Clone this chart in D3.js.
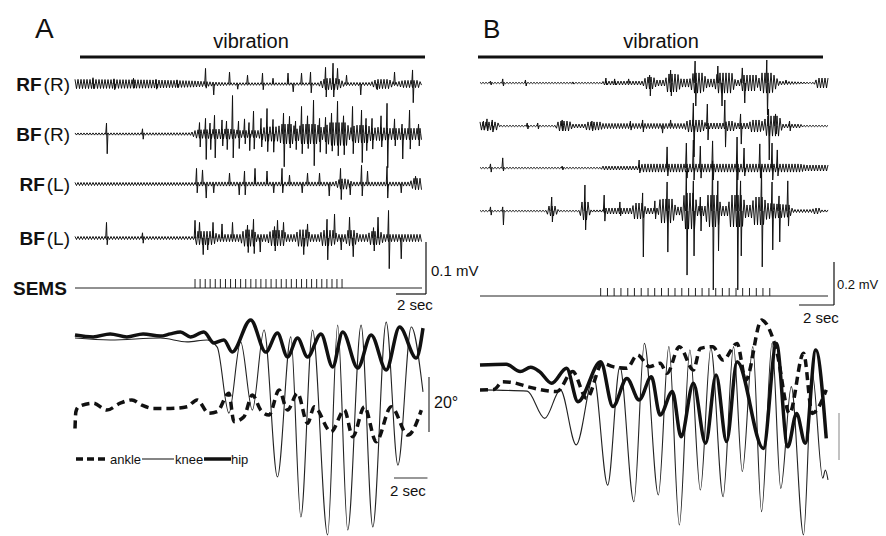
<!DOCTYPE html>
<html>
<head>
<meta charset="utf-8">
<script src="https://cdn.jsdelivr.net/npm/d3@7"></script>
<style>
  body { margin: 0; background: #fff; }
  text { font-family: "Liberation Sans", Arial, sans-serif; fill: #111; }
</style>
</head>
<body>
<div id="chart"></div>
<script>
// ---- EMG data, panel A (time in s, amplitude in µV) ----
// envelope = [time, half amplitude of background activity]
// spikes = [time, up, down]
const rfR_env = [[0,9],[5,8],[8,6],[9.1,4],[10.3,2.5],[16.2,2.5],[16.7,11],[17.5,11],[18,3],[19.7,3],[20.1,9],[20.9,9],[21.3,3],[21.9,7],[22.9,7],[23.1,2]];
const rfR_spikes = [[1.2,12,9],[2.6,10,11],[3.9,11,8],[5.4,9,10],[6.8,8,7],[8.7,30,8],[9.2,0,21],[10.3,23,0],[10.8,0,10],[11.5,17,0],[12.5,21,11],[13.2,11,0],[14.2,21,0],[14.5,0,15],[15.1,21,0],[15.7,23,17],[16.7,32,25],[17.2,40,25],[17.5,30,0],[18.1,17,0],[19.0,0,21],[20.1,0,11],[21.3,23,0],[22.5,27,36]];

const bfR_env = [[0,2],[7.7,2.5],[8.1,8],[10.3,10],[11,7],[12.2,7],[12.7,14],[13.5,14],[13.8,19],[14.5,19],[14.8,10],[15.1,19],[16.1,19],[16.5,11],[17,22],[18.1,22],[18.3,11],[18.7,17],[19.5,17],[19.8,11],[20.2,13],[21,11],[23.1,11]];
const bfR_spikes = [[2.1,21,38],[4.5,10,10],[8.3,22,25],[8.7,30,49],[9.0,21,30],[9.3,36,46],[9.8,27,23],[10.1,25,30],[10.5,74,46],[10.9,25,28],[11.3,29,19],[11.6,22,32],[11.9,44,29],[12.4,30,25],[12.8,49,34],[13.2,28,35],[13.9,40,63],[14.3,34,27],[14.7,25,30],[15.1,53,38],[15.5,35,28],[15.9,65,61],[16.3,30,35],[16.7,32,38],[17.1,40,33],[17.5,63,42],[17.9,35,40],[18.5,53,38],[19.1,46,55],[19.4,30,32],[19.8,30,29],[20.4,35,25],[20.8,59,65],[21.3,29,23],[21.8,19,48],[22.3,46,29],[22.9,19,23]];

const rfL_env = [[0,3],[8,3],[8.3,4],[17.3,4],[17.7,10],[18.1,10],[18.5,4],[22.3,4],[22.6,11],[23.1,11]];
const rfL_spikes = [[8.1,30,17],[8.5,27,0],[8.7,0,27],[9.2,0,17],[10.3,21,0],[10.9,0,21],[11.3,25,21],[12,30,0],[12.8,25,0],[13.2,0,17],[13.8,30,17],[14.3,17,0],[15.1,0,17],[15.5,21,0],[16.3,21,0],[16.9,0,23],[17.7,30,30],[18.3,0,21],[19.1,36,23],[19.5,25,0],[20.8,34,27],[21.7,0,17],[22.7,15,0]];

const bfL_env = [[0,3],[8,3],[8.1,13],[9.2,13],[9.5,7],[11,7],[11.3,16],[11.9,16],[12.1,7],[12.8,7],[13.1,15],[13.9,15],[14.1,7],[14.7,7],[14.9,16],[15.5,16],[15.7,7],[16.3,7],[16.5,15],[17.2,15],[17.5,7],[18,7],[18.2,15],[18.6,15],[18.9,7],[19.5,7],[19.7,13],[20.3,13],[20.6,7],[23.1,7]];
const bfL_spikes = [[2.1,30,13],[4.5,10,10],[8,34,0],[8.3,30,0],[8.5,0,32],[8.8,0,23],[9.2,30,0],[9.8,27,0],[10.5,30,0],[11.5,25,28],[11.9,36,30],[12.3,0,27],[13.3,22,25],[13.5,34,0],[13.9,30,0],[15.2,0,32],[15.5,27,0],[16.8,36,42],[17.3,46,0],[17.7,0,23],[18.3,40,0],[18.5,0,36],[19.9,20,25],[20.2,40,0],[20.9,53,59],[21.7,0,40]];

// stimulation pulses (s)
const semsA = [8.00,8.34,8.68,9.01,9.35,9.69,10.03,10.37,10.70,11.04,11.38,11.72,12.06,12.39,12.73,13.07,13.41,13.75,14.08,14.42,14.76,15.10,15.44,15.77,16.11,16.45,16.79,17.13,17.46,17.80];

// ---- EMG data, panel B ----
const b1_env = [[0,3],[6.9,3],[7.1,9],[9.3,9],[9.5,28],[9.9,28],[10.1,14],[10.6,14],[10.7,42],[11.3,42],[11.5,19],[12,19],[12.2,47],[12.7,47],[13,19],[13.4,19],[13.6,47],[14.4,47],[14.6,14],[14.9,14],[15,37],[15.8,37],[15.9,14],[16.1,47],[16.7,47],[17,19],[17.1,9],[18.3,5],[19.1,3],[19.3,23],[19.9,23]];
const b1_spikes = [[0.6,9,9],[1.3,19,14],[2.6,14,14],[5.3,5,5],[7.2,23,9],[7.7,19,9],[8.5,19,0],[9.7,37,60],[10.9,60,60],[12.3,102,107],[13.6,79,0],[13.8,0,107],[15,70,0],[15.1,0,93],[16.4,107,149],[17.5,14,0]];

const b2_env = [[0,19],[1,19],[1.1,3],[4.3,3],[4.5,23],[5.1,23],[5.3,9],[6,9],[6.1,19],[6.9,19],[7,12],[11.7,12],[11.9,28],[12.7,28],[12.9,14],[14,14],[14.1,23],[14.5,23],[14.6,14],[15.4,14],[15.5,28],[16,28],[16.2,19],[16.4,47],[17.1,47],[17.3,9],[18.3,9],[18.5,3],[19.9,3]];
const b2_spikes = [[0.2,23,19],[0.4,33,23],[0.7,28,28],[2.7,14,14],[3.3,14,14],[4.7,28,23],[6.4,23,23],[8.6,23,19],[9.3,28,28],[10.4,0,33],[10.9,28,0],[12.2,107,144],[13,102,65],[14,121,98],[14.9,56,84],[16.5,79,158],[16.9,56,37],[17.7,23,23]];

const b3_env = [[0,3],[6.9,3],[7,9],[9,9],[9.3,19],[18.3,19],[18.6,14],[19.9,14]];
const b3_spikes = [[0.6,19,19],[1.3,47,14],[4.7,9,9],[9.1,37,23],[10.7,98,37],[11.8,116,47],[12.2,130,56],[12.6,102,47],[13.3,126,56],[14.7,144,56],[15.1,93,37],[16,112,47],[16.7,116,56],[17,84,37]];

const b4_env = [[0,3],[3.8,3],[3.9,23],[4.3,23],[4.5,3],[5.7,3],[5.8,42],[6.2,42],[6.3,5],[7,5],[7.2,14],[8.7,14],[8.8,37],[9.3,37],[9.5,14],[10.2,14],[10.3,56],[11,56],[11.2,19],[11.5,19],[11.7,84],[12.3,84],[12.4,23],[12.9,23],[13,74],[13.6,74],[13.8,23],[14.2,23],[14.3,74],[15,74],[15.2,28],[15.5,28],[15.7,65],[16.2,65],[16.4,37],[17.7,28],[17.9,7],[19,7],[19.1,14],[19.4,14],[19.5,5],[19.9,5]];
const b4_spikes = [[0.6,19,19],[1.3,19,65],[4.1,65,51],[6,121,88],[7.1,74,47],[8,42,23],[9.3,84,214],[10,47,37],[10.7,135,191],[11.8,186,298],[12.2,140,209],[12.6,65,93],[13.3,233,367],[13.6,140,186],[14.7,233,367],[14.9,140,209],[16.1,205,260],[16.7,135,181],[17.1,70,144],[17.6,140,70]];

const semsB = [6.90,7.29,7.67,8.06,8.45,8.83,9.22,9.61,9.99,10.38,10.77,11.15,11.54,11.93,12.32,12.70,13.09,13.48,13.86,14.25,14.64,15.02,15.41,15.80,16.18,16.57];

// ---- joint angles (time s, angle deg) ----
const hipA = [[0,0],[1.08,-0.7],[2.1,0.4],[3.1,-0.7],[4.07,0.4],[5.1,-0.4],[5.7,0.4],[6.3,1.1],[6.9,-0.7],[7.7,1.1],[8.3,-2.9],[8.9,-1.8],[9.4,-6.2],[10.5,5.5],[11.4,-6.2],[12.1,0.7],[12.7,-8.0],[13.3,-1.1],[13.9,-8.0],[14.7,0.4],[15.4,-11.6],[16.0,1.1],[16.9,-12.0],[17.7,0],[18.6,-12.7],[19.4,2.9],[20.4,-8.4],[20.8,2.5]];
const kneeA = [[0,-1.1],[2.1,-1.8],[5.1,-1.1],[6.7,-2.5],[7.9,-1.8],[8.5,-4.4],[9.2,-28.4],[9.9,-2.5],[10.6,-27.3],[11.3,1.8],[12.1,-51.6],[12.9,-0.7],[13.5,-66.2],[14.2,1.8],[15.1,-72.7],[15.7,3.6],[16.3,-70.9],[17.1,3.6],[17.8,-69.8],[18.6,4.7],[19.3,-47.3],[20.1,2.9],[20.8,-20.7]];
const ankleA = [[0,-34],[0.05,-28],[0.2,-26.1],[1.1,-24.8],[1.9,-27.3],[2.7,-24.8],[3.4,-23.6],[4.0,-25.5],[4.7,-26.7],[5.7,-26.7],[6.7,-26.1],[7.3,-23.6],[8.0,-28.5],[8.5,-27.9],[9.2,-21.2],[9.5,-31.5],[10.1,-29.7],[10.6,-21.8],[11.1,-27.3],[11.6,-29.1],[12.2,-20.0],[12.7,-27.3],[13.3,-21.2],[13.9,-32.1],[14.3,-26.1],[15.3,-35.2],[16.1,-27.3],[16.6,-37.0],[17.3,-26.1],[18.0,-38.8],[18.9,-26.1],[19.9,-36.4],[20.7,-27.3]];

const hipB = [[0,0],[1.5,0.3],[2.3,-2.8],[2.9,-1.0],[3.4,-2.8],[4.1,-7.8],[4.95,-1.4],[5.6,-15.6],[6.9,1.4],[7.6,-17.7],[8.4,-5.7],[9.1,-14.9],[9.8,-5.0],[10.3,-21.3],[11.0,-11.3],[11.5,-30.5],[12.2,-7.8],[12.9,-33.3],[13.5,-4.3],[14.1,-32.6],[14.7,1.4],[16.2,-35.5],[16.95,9.2],[17.6,-34.8],[18.1,-20.6],[18.6,-33.3],[19.2,6.4],[19.8,-31.2]];
const kneeB = [[0,-10.6],[2.7,-11.1],[3.7,-22.7],[4.6,-10.6],[5.5,-34.0],[6.5,-5.0],[7.3,-51.1],[8.0,-0.7],[8.8,-58.2],[9.4,9.2],[10.2,-55.3],[10.8,7.8],[11.4,-68.1],[12.0,6.4],[12.6,-53.2],[13.2,7.1],[13.9,-56.0],[14.5,7.8],[15.0,-45.4],[15.6,7.8],[16.1,-62.4],[16.7,9.2],[17.2,-52.5],[17.8,-9.2],[18.5,-72.3],[19.0,-3.5],[19.6,-48.2],[19.75,-44.7],[19.9,-48.9]];
const ankleB = [[0,-10.6],[0.8,-10.4],[1.3,-7.1],[1.9,-7.5],[2.7,-9.2],[3.4,-10.4],[4.4,-11.3],[5.3,-2.8],[6.1,-14.2],[7.0,0.7],[7.6,-0.7],[8.4,-1.4],[9.0,4.3],[9.7,-0.7],[10.3,0.7],[10.7,-3.5],[11.4,7.8],[12.2,-2.1],[12.6,7.1],[13.3,7.8],[13.9,2.1],[14.7,9.2],[15.2,-6.4],[16.1,19.1],[16.95,6.4],[17.7,-20.6],[18.5,5.0],[19.0,-20.6],[19.8,-10.6]];

const width = 886, height = 536;

const svg = d3.select("#chart")
    .append("svg")
    .attr("width", width)
    .attr("height", height);

// scales
const xEmgA = d3.scaleLinear().domain([0, 23.13]).range([75, 422]);
const uvA = d3.scaleLinear().domain([0, 100]).range([0, 52]);
const xEmgB = d3.scaleLinear().domain([0, 19.9]).range([480, 828]);
const uvB = d3.scaleLinear().domain([0, 200]).range([0, 43]);

const xKinA = d3.scaleLinear().domain([0, 20.8]).range([75, 423]);
const yKinA = d3.scaleLinear().domain([0, -20]).range([335, 390]);
const xKinB = d3.scaleLinear().domain([0, 19.9]).range([480, 828]);
const yKinB = d3.scaleLinear().domain([0, -20]).range([365, 412]);

const line = d3.line();

// one EMG channel: background drawn as a min/max zig-zag inside the envelope,
// then the single spikes on top
function drawEmg(xs, amp, base, env, spikes) {
    const envScale = d3.scaleLinear()
        .domain(env.map(d => d[0]))
        .range(env.map(d => d[1]))
        .clamp(true);
    const [x0, x1] = xs.range();
    const pts = [];
    let i = 0;
    for (let px = x0; px <= x1; px += 1.5, i++) {
        const a = Math.max(0.6, amp(envScale(xs.invert(px))));
        pts.push([px, base + (i % 2 ? a : -a)]);
    }
    svg.append("path")
        .attr("d", line(pts))
        .attr("fill", "none")
        .attr("stroke", "#000")
        .attr("stroke-width", 0.9);

    svg.append("g")
        .selectAll("path")
        .data(spikes)
        .join("path")
        .attr("d", d => {
            const x = xs(d[0]);
            return line([[x - 0.8, base], [x, base - amp(d[1])], [x + 0.7, base + amp(d[2])], [x + 1.4, base]]);
        })
        .attr("fill", "none")
        .attr("stroke", "#111")
        .attr("stroke-width", 1);
}

function drawSems(xs, base, pulses, tickH) {
    const [x0, x1] = xs.range();
    svg.append("line")
        .attr("x1", x0).attr("x2", x1)
        .attr("y1", base).attr("y2", base)
        .attr("stroke", "#222").attr("stroke-width", 1);
    svg.append("g")
        .selectAll("line")
        .data(pulses)
        .join("line")
        .attr("x1", d => xs(d)).attr("x2", d => xs(d))
        .attr("y1", base).attr("y2", base - tickH)
        .attr("stroke", "#222").attr("stroke-width", 1);
}

function drawAngle(data, xs, ys, w, dash, color) {
    const l = d3.line()
        .x(d => xs(d[0]))
        .y(d => ys(d[1]))
        .curve(d3.curveMonotoneX);
    const p = svg.append("path")
        .attr("d", l(data))
        .attr("fill", "none")
        .attr("stroke", color)
        .attr("stroke-width", w);
    if (dash) p.attr("stroke-dasharray", dash);
}

function text(x, y, str, size, opts = {}) {
    return svg.append("text")
        .attr("x", x).attr("y", y)
        .attr("font-size", size)
        .attr("text-anchor", opts.anchor || "start")
        .attr("font-weight", opts.bold ? "bold" : "normal")
        .text(str);
}

function bar(x1, y1, x2, y2, w, color, dash) {
    const l = svg.append("line")
        .attr("x1", x1).attr("y1", y1)
        .attr("x2", x2).attr("y2", y2)
        .attr("stroke", color || "#111")
        .attr("stroke-width", w);
    if (dash) l.attr("stroke-dasharray", dash);
    return l;
}

// ---------- panel A ----------
text(35, 38, "A", 28);
text(251, 48, "vibration", 20, { anchor: "middle" });
bar(80, 57, 425, 57, 3);

const rowsA = [
    { name: "RF", side: "(R)", base: 84, env: rfR_env, spikes: rfR_spikes },
    { name: "BF", side: "(R)", base: 134, env: bfR_env, spikes: bfR_spikes },
    { name: "RF", side: "(L)", base: 184, env: rfL_env, spikes: rfL_spikes },
    { name: "BF", side: "(L)", base: 238, env: bfL_env, spikes: bfL_spikes }
];
rowsA.forEach(r => {
    drawEmg(xEmgA, uvA, r.base, r.env, r.spikes);
    const t = svg.append("text")
        .attr("x", 70).attr("y", r.base + 7)
        .attr("font-size", 19)
        .attr("text-anchor", "end");
    t.append("tspan").attr("font-weight", "bold").text(r.name);
    t.append("tspan").attr("dx", 2).text(r.side);
});
text(13, 295, "SEMS", 19, { bold: true });
drawSems(xEmgA, 288, semsA, 9);

// EMG scale bars A
const sbAx = 426, sbAy = 294;
bar(sbAx, sbAy - uvA(100), sbAx, sbAy, 1.2);
bar(sbAx - (xEmgA(2) - xEmgA(0)), sbAy, sbAx, sbAy, 1.2);
text(431, 276, "0.1 mV", 15);
text(397, 310, "2 sec", 15);

// joint angles A
drawAngle(kneeA, xKinA, yKinA, 1.1, null, "#222");
drawAngle(ankleA, xKinA, yKinA, 3.5, "8,5", "#111");
drawAngle(hipA, xKinA, yKinA, 3.5, null, "#111");

bar(429, 377, 429, 377 + (yKinA(-20) - yKinA(0)), 1.2, "#333");
text(434, 408, "20°", 16);
bar(394, 478, 394 + (xKinA(2) - xKinA(0)), 478, 1.2, "#333");
text(390, 496, "2 sec", 15);

// legend A
const legY = 459;
bar(76, legY, 108, legY, 3.5, "#111", "7,4");
text(110, legY + 4.5, "ankle", 13);
bar(142, legY, 174, legY, 1.1, "#222");
text(175, legY + 4.5, "knee", 13);
bar(204, legY, 231, legY, 3.5, "#111");
text(231, legY + 4.5, "hip", 13);

// ---------- panel B ----------
text(483, 38, "B", 26);
text(661, 48, "vibration", 20, { anchor: "middle" });
bar(478, 57, 823, 57, 3);

const rowsB = [
    { base: 83, env: b1_env, spikes: b1_spikes },
    { base: 126, env: b2_env, spikes: b2_spikes },
    { base: 168, env: b3_env, spikes: b3_spikes },
    { base: 211, env: b4_env, spikes: b4_spikes }
];
rowsB.forEach(r => drawEmg(xEmgB, uvB, r.base, r.env, r.spikes));
drawSems(xEmgB, 296, semsB, 8);

const sbBx = 834, sbBy = 305;
bar(sbBx, sbBy - uvB(200), sbBx, sbBy, 1.2);
bar(sbBx - (xEmgB(2) - xEmgB(0)), sbBy, sbBx, sbBy, 1.2);
text(837, 289, "0.2 mV", 13);
text(803, 323, "2 sec", 15);

// joint angles B
drawAngle(kneeB, xKinB, yKinB, 1.1, null, "#222");
drawAngle(ankleB, xKinB, yKinB, 3.5, "8,5", "#111");
drawAngle(hipB, xKinB, yKinB, 3.5, null, "#111");

bar(839, 413, 839, 413 + (yKinB(-20) - yKinB(0)), 1.2, "#999");
</script>
</body>
</html>
